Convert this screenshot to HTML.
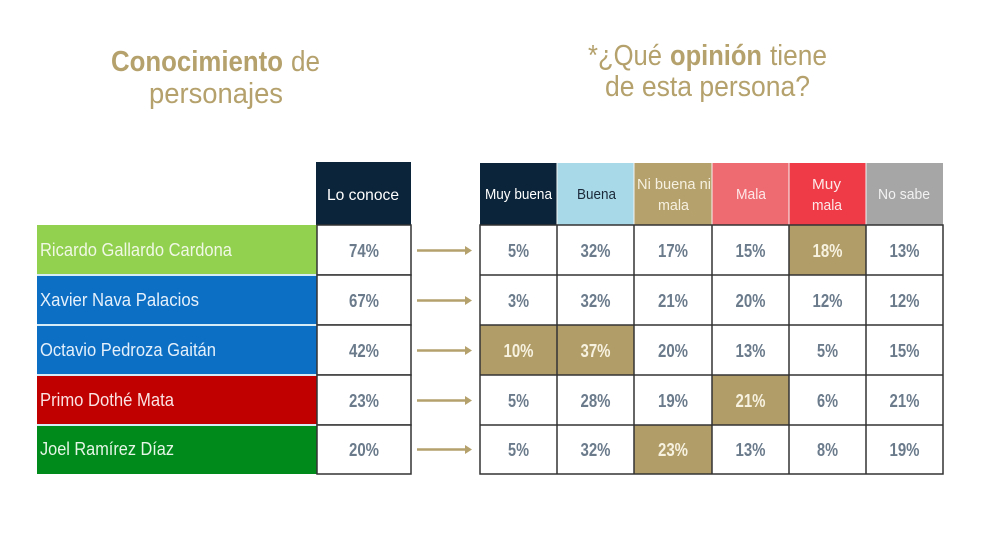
<!DOCTYPE html>
<html>
<head>
<meta charset="utf-8">
<style>
html,body{margin:0;padding:0;background:#fff;}
svg{display:block;}
text{font-family:"Liberation Sans",sans-serif;}
</style>
</head>
<body>
<svg width="1000" height="534" viewBox="0 0 1000 534" xmlns="http://www.w3.org/2000/svg">
<rect width="1000" height="534" fill="#fff"/>

<!-- Titles -->
<g fill="#b4a16c" font-size="29">
  <text x="111" y="71" font-weight="bold" textLength="172" lengthAdjust="spacingAndGlyphs">Conocimiento</text>
  <text x="291" y="71" textLength="29" lengthAdjust="spacingAndGlyphs">de</text>
  <text x="149" y="103" textLength="134" lengthAdjust="spacingAndGlyphs">personajes</text>

  <text x="588" y="65" textLength="74" lengthAdjust="spacingAndGlyphs">*¿Qué</text>
  <text x="670" y="65" font-weight="bold" textLength="92" lengthAdjust="spacingAndGlyphs">opinión</text>
  <text x="770" y="65" textLength="57" lengthAdjust="spacingAndGlyphs">tiene</text>
  <text x="605" y="96" textLength="205" lengthAdjust="spacingAndGlyphs">de esta persona?</text>
</g>

<!-- Name labels -->
<rect x="37" y="225" width="280" height="50" fill="#92d050"/>
<rect x="37" y="275" width="280" height="50" fill="#0d6fc4"/>
<rect x="37" y="325" width="280" height="50" fill="#0d6fc4"/>
<rect x="37" y="375" width="280" height="50" fill="#c00000"/>
<rect x="37" y="425" width="280" height="49" fill="#008a1c"/>
<g stroke="#d6ecf6" stroke-width="2">
  <line x1="37" y1="275" x2="317" y2="275"/>
  <line x1="37" y1="325" x2="317" y2="325"/>
  <line x1="37" y1="375" x2="317" y2="375"/>
  <line x1="37" y1="425" x2="317" y2="425"/>
</g>
<g font-size="18">
  <text x="40" y="256" fill="#f0f8e4" textLength="192" lengthAdjust="spacingAndGlyphs">Ricardo Gallardo Cardona</text>
  <text x="40" y="306" fill="#e4f0fb" textLength="159" lengthAdjust="spacingAndGlyphs">Xavier Nava Palacios</text>
  <text x="40" y="356" fill="#e4f0fb" textLength="176" lengthAdjust="spacingAndGlyphs">Octavio Pedroza Gaitán</text>
  <text x="40" y="406" fill="#fbe2e2" textLength="134" lengthAdjust="spacingAndGlyphs">Primo Dothé Mata</text>
  <text x="40" y="455" fill="#e6f6e6" textLength="134" lengthAdjust="spacingAndGlyphs">Joel Ramírez Díaz</text>
</g>

<!-- Lo conoce column -->
<rect x="316" y="162" width="95" height="63" fill="#0b2439"/>
<text x="327" y="200" font-size="16" fill="#ffffff" textLength="72" lengthAdjust="spacingAndGlyphs">Lo conoce</text>
<g fill="#fff" stroke="#333" stroke-width="1.5">
  <rect x="317" y="225" width="94" height="50"/>
  <rect x="317" y="275" width="94" height="50"/>
  <rect x="317" y="325" width="94" height="50"/>
  <rect x="317" y="375" width="94" height="50"/>
  <rect x="317" y="425" width="94" height="49"/>
</g>
<g font-size="18" font-weight="bold" fill="#6b7b8c" text-anchor="middle">
  <text x="364" y="257" textLength="30" lengthAdjust="spacingAndGlyphs">74%</text>
  <text x="364" y="307" textLength="30" lengthAdjust="spacingAndGlyphs">67%</text>
  <text x="364" y="357" textLength="30" lengthAdjust="spacingAndGlyphs">42%</text>
  <text x="364" y="407" textLength="30" lengthAdjust="spacingAndGlyphs">23%</text>
  <text x="364" y="456" textLength="30" lengthAdjust="spacingAndGlyphs">20%</text>
</g>

<!-- Arrows -->
<g stroke="#b4a16c" stroke-width="2.5" fill="#b4a16c">
  <line x1="417" y1="250.5" x2="466" y2="250.5"/>
  <line x1="417" y1="300.5" x2="466" y2="300.5"/>
  <line x1="417" y1="350.5" x2="466" y2="350.5"/>
  <line x1="417" y1="400.5" x2="466" y2="400.5"/>
  <line x1="417" y1="449.5" x2="466" y2="449.5"/>
</g>
<g fill="#b4a16c">
  <polygon points="465,246 472,250.5 465,255"/>
  <polygon points="465,296 472,300.5 465,305"/>
  <polygon points="465,346 472,350.5 465,355"/>
  <polygon points="465,396 472,400.5 465,405"/>
  <polygon points="465,445 472,449.5 465,454"/>
</g>

<!-- Opinion headers -->
<rect x="480" y="163" width="77" height="62" fill="#0b2439"/>
<rect x="557" y="163" width="77" height="62" fill="#a8d9e8"/>
<rect x="634" y="163" width="78" height="62" fill="#b4a16c"/>
<rect x="712" y="163" width="77" height="62" fill="#ef6b72"/>
<rect x="789" y="163" width="77" height="62" fill="#ee3b47"/>
<rect x="866" y="163" width="77" height="62" fill="#a6a6a6"/>
<g stroke="#f4f4f4" stroke-width="1">
  <line x1="557" y1="163" x2="557" y2="225"/>
  <line x1="634" y1="163" x2="634" y2="225"/>
  <line x1="712" y1="163" x2="712" y2="225"/>
  <line x1="789" y1="163" x2="789" y2="225"/>
  <line x1="866" y1="163" x2="866" y2="225"/>
</g>
<g font-size="15" fill="#ffffff">
  <text x="485" y="199" textLength="67" lengthAdjust="spacingAndGlyphs">Muy buena</text>
  <text x="577" y="199" fill="#1b2a3a" textLength="39" lengthAdjust="spacingAndGlyphs">Buena</text>
  <text x="637" y="189" fill="#f6f0e0" textLength="74" lengthAdjust="spacingAndGlyphs">Ni buena ni</text>
  <text x="658" y="210" fill="#f6f0e0" textLength="31" lengthAdjust="spacingAndGlyphs">mala</text>
  <text x="736" y="199" fill="#fde8e8" textLength="30" lengthAdjust="spacingAndGlyphs">Mala</text>
  <text x="812" y="189" fill="#fde8e8" textLength="29" lengthAdjust="spacingAndGlyphs">Muy</text>
  <text x="812" y="210" fill="#fde8e8" textLength="30" lengthAdjust="spacingAndGlyphs">mala</text>
  <text x="878" y="199" fill="#f2f2f2" textLength="52" lengthAdjust="spacingAndGlyphs">No sabe</text>
</g>

<!-- Opinion cells: highlighted backgrounds -->
<g fill="#b09d68">
  <rect x="789" y="225" width="77" height="50"/>
  <rect x="480" y="325" width="77" height="50"/>
  <rect x="557" y="325" width="77" height="50"/>
  <rect x="712" y="375" width="77" height="50"/>
  <rect x="634" y="425" width="78" height="49"/>
</g>
<!-- grid -->
<g stroke="#333" stroke-width="1.5" fill="none">
  <rect x="480" y="225" width="463" height="249"/>
  <line x1="480" y1="275" x2="943" y2="275"/>
  <line x1="480" y1="325" x2="943" y2="325"/>
  <line x1="480" y1="375" x2="943" y2="375"/>
  <line x1="480" y1="425" x2="943" y2="425"/>
  <line x1="557" y1="225" x2="557" y2="474"/>
  <line x1="634" y1="225" x2="634" y2="474"/>
  <line x1="712" y1="225" x2="712" y2="474"/>
  <line x1="789" y1="225" x2="789" y2="474"/>
  <line x1="866" y1="225" x2="866" y2="474"/>
</g>

<g font-size="18" font-weight="bold" fill="#6b7b8c" text-anchor="middle">
  <!-- row 1 -->
  <text x="518.5" y="257" textLength="21" lengthAdjust="spacingAndGlyphs">5%</text>
  <text x="595.5" y="257" textLength="30" lengthAdjust="spacingAndGlyphs">32%</text>
  <text x="673" y="257" textLength="30" lengthAdjust="spacingAndGlyphs">17%</text>
  <text x="750.5" y="257" textLength="30" lengthAdjust="spacingAndGlyphs">15%</text>
  <text x="827.5" y="257" fill="#f7f1e0" textLength="30" lengthAdjust="spacingAndGlyphs">18%</text>
  <text x="904.5" y="257" textLength="30" lengthAdjust="spacingAndGlyphs">13%</text>
  <!-- row 2 -->
  <text x="518.5" y="307" textLength="21" lengthAdjust="spacingAndGlyphs">3%</text>
  <text x="595.5" y="307" textLength="30" lengthAdjust="spacingAndGlyphs">32%</text>
  <text x="673" y="307" textLength="30" lengthAdjust="spacingAndGlyphs">21%</text>
  <text x="750.5" y="307" textLength="30" lengthAdjust="spacingAndGlyphs">20%</text>
  <text x="827.5" y="307" textLength="30" lengthAdjust="spacingAndGlyphs">12%</text>
  <text x="904.5" y="307" textLength="30" lengthAdjust="spacingAndGlyphs">12%</text>
  <!-- row 3 -->
  <text x="518.5" y="357" fill="#f7f1e0" textLength="30" lengthAdjust="spacingAndGlyphs">10%</text>
  <text x="595.5" y="357" fill="#f7f1e0" textLength="30" lengthAdjust="spacingAndGlyphs">37%</text>
  <text x="673" y="357" textLength="30" lengthAdjust="spacingAndGlyphs">20%</text>
  <text x="750.5" y="357" textLength="30" lengthAdjust="spacingAndGlyphs">13%</text>
  <text x="827.5" y="357" textLength="21" lengthAdjust="spacingAndGlyphs">5%</text>
  <text x="904.5" y="357" textLength="30" lengthAdjust="spacingAndGlyphs">15%</text>
  <!-- row 4 -->
  <text x="518.5" y="407" textLength="21" lengthAdjust="spacingAndGlyphs">5%</text>
  <text x="595.5" y="407" textLength="30" lengthAdjust="spacingAndGlyphs">28%</text>
  <text x="673" y="407" textLength="30" lengthAdjust="spacingAndGlyphs">19%</text>
  <text x="750.5" y="407" fill="#f7f1e0" textLength="30" lengthAdjust="spacingAndGlyphs">21%</text>
  <text x="827.5" y="407" textLength="21" lengthAdjust="spacingAndGlyphs">6%</text>
  <text x="904.5" y="407" textLength="30" lengthAdjust="spacingAndGlyphs">21%</text>
  <!-- row 5 -->
  <text x="518.5" y="456" textLength="21" lengthAdjust="spacingAndGlyphs">5%</text>
  <text x="595.5" y="456" textLength="30" lengthAdjust="spacingAndGlyphs">32%</text>
  <text x="673" y="456" fill="#f7f1e0" textLength="30" lengthAdjust="spacingAndGlyphs">23%</text>
  <text x="750.5" y="456" textLength="30" lengthAdjust="spacingAndGlyphs">13%</text>
  <text x="827.5" y="456" textLength="21" lengthAdjust="spacingAndGlyphs">8%</text>
  <text x="904.5" y="456" textLength="30" lengthAdjust="spacingAndGlyphs">19%</text>
</g>
</svg>
</body>
</html>
